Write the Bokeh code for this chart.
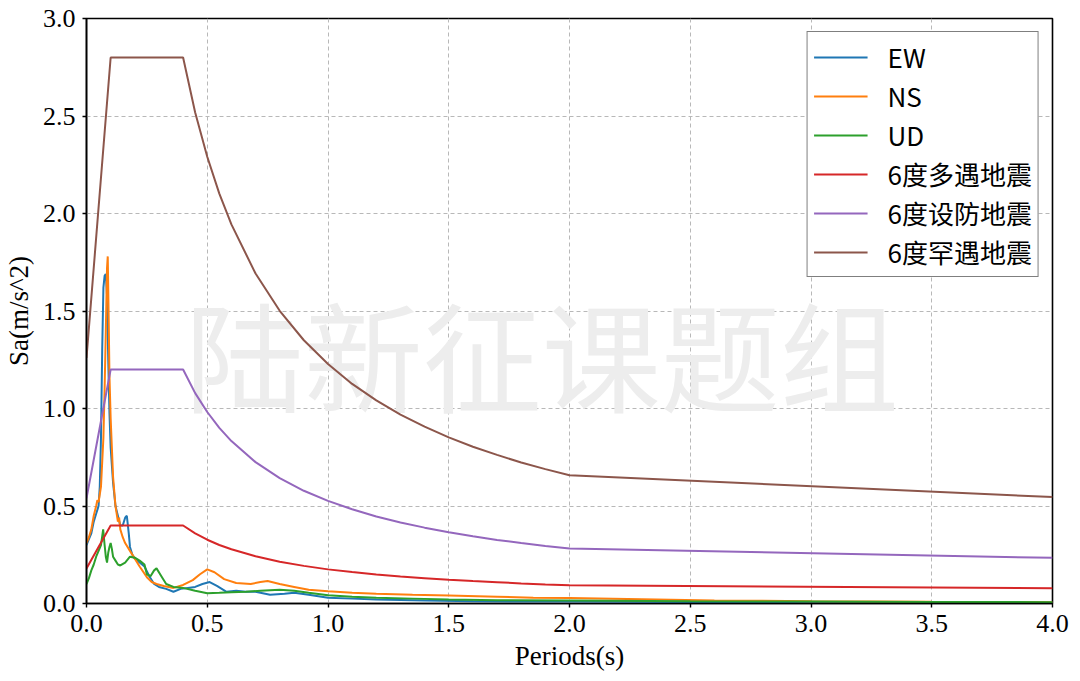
from bokeh.plotting import figure
from bokeh.models import Range1d, FixedTicker, Label, Legend, LegendItem
from bokeh.embed import file_html
from bokeh.resources import INLINE

# ---------------- data ----------------
x_ticks = [0.0, 0.5, 1.0, 1.5, 2.0, 2.5, 3.0, 3.5, 4.0]
x_tick_labels = ["0.0", "0.5", "1.0", "1.5", "2.0", "2.5", "3.0", "3.5", "4.0"]
y_ticks = [0.0, 0.5, 1.0, 1.5, 2.0, 2.5, 3.0]
y_tick_labels = ["0.0", "0.5", "1.0", "1.5", "2.0", "2.5", "3.0"]

series_names = ["EW", "NS", "UD", "6度多遇地震", "6度设防地震", "6度罕遇地震"]

ew_T = [0, 0.01, 0.02, 0.03, 0.04, 0.05, 0.055, 0.06, 0.065, 0.07, 0.075, 0.08,
        0.085, 0.09, 0.095, 0.10, 0.11, 0.12, 0.13, 0.14, 0.15, 0.16,
        0.167, 0.175, 0.18, 0.19, 0.20, 0.22, 0.24, 0.26, 0.28, 0.30,
        0.33, 0.36, 0.39, 0.42, 0.45, 0.48, 0.51, 0.54, 0.58, 0.62, 0.66, 0.70,
        0.76, 0.82, 0.86, 0.92, 1.0, 1.1, 1.2, 1.4, 1.6, 1.8, 2.0, 2.5, 3.0, 3.5, 4.0]
ew_sa = [0.30, 0.33, 0.36, 0.42, 0.46, 0.50, 0.60, 0.85, 1.30, 1.62, 1.68, 1.69,
         1.58, 1.25, 0.98, 0.80, 0.62, 0.50, 0.45, 0.40, 0.40, 0.44,
         0.45, 0.36, 0.29, 0.25, 0.23, 0.21, 0.19, 0.14, 0.10, 0.085,
         0.075, 0.06, 0.075, 0.08, 0.085, 0.10, 0.11, 0.09, 0.06, 0.065, 0.06, 0.06,
         0.045, 0.05, 0.055, 0.045, 0.03, 0.025, 0.02, 0.015, 0.012, 0.01, 0.01, 0.008, 0.007, 0.006, 0.005]

ns_T = [0, 0.01, 0.02, 0.03, 0.04, 0.045, 0.05, 0.06, 0.07, 0.075, 0.08, 0.085,
        0.088, 0.092, 0.095, 0.10, 0.105, 0.11, 0.12, 0.13, 0.135, 0.14, 0.15, 0.16,
        0.18, 0.20, 0.22, 0.25, 0.27, 0.29, 0.32, 0.36, 0.40, 0.44, 0.47, 0.50,
        0.53, 0.57, 0.62, 0.68, 0.72, 0.75, 0.80, 0.86, 0.92, 1.0, 1.1, 1.2,
        1.35, 1.5, 1.7, 1.85, 2.0, 2.3, 2.6, 3.0, 3.5, 4.0]
ns_sa = [0.31, 0.34, 0.38, 0.45, 0.50, 0.53, 0.52, 0.60, 0.85, 1.10, 1.40, 1.72,
         1.78, 1.45, 1.17, 0.95, 0.80, 0.65, 0.50, 0.42, 0.44, 0.38, 0.34, 0.31,
         0.27, 0.23, 0.19, 0.135, 0.11, 0.10, 0.09, 0.08, 0.095, 0.12, 0.15, 0.175,
         0.16, 0.125, 0.105, 0.10, 0.11, 0.115, 0.10, 0.085, 0.07, 0.063, 0.055, 0.05,
         0.045, 0.041, 0.035, 0.03, 0.028, 0.022, 0.016, 0.012, 0.009, 0.007]

ud_T = [0, 0.01, 0.02, 0.03, 0.04, 0.05, 0.06, 0.069, 0.075, 0.08, 0.085, 0.09,
        0.095, 0.10, 0.105, 0.11, 0.12, 0.13, 0.14, 0.16, 0.18, 0.20, 0.22, 0.24,
        0.25, 0.265, 0.28, 0.29, 0.31, 0.33, 0.36, 0.40, 0.45, 0.50, 0.55, 0.60,
        0.66, 0.72, 0.80, 0.86, 0.92, 1.0, 1.1, 1.2, 1.35, 1.5, 1.7, 2.0,
        2.5, 3.0, 3.5, 4.0]
ud_sa = [0.10, 0.13, 0.17, 0.20, 0.24, 0.27, 0.30, 0.38, 0.30, 0.24, 0.21, 0.26,
         0.29, 0.31, 0.28, 0.24, 0.22, 0.20, 0.195, 0.21, 0.24, 0.235, 0.22, 0.20,
         0.15, 0.14, 0.17, 0.18, 0.14, 0.10, 0.085, 0.08, 0.065, 0.053, 0.055, 0.058,
         0.06, 0.065, 0.07, 0.065, 0.055, 0.042, 0.035, 0.03, 0.025, 0.02, 0.017, 0.015,
         0.012, 0.01, 0.008, 0.007]

design_T = [0, 0.1, 0.4, 0.45, 0.5, 0.55, 0.6, 0.7, 0.8, 0.9, 1.0, 1.1, 1.2, 1.3,
            1.4, 1.5, 1.6, 1.7, 1.8, 1.9, 2.0, 4.0]
frequent_sa = [0.18, 0.40, 0.40, 0.360, 0.327, 0.300, 0.278, 0.242, 0.214, 0.193, 0.175,
               0.161, 0.149, 0.138, 0.130, 0.122, 0.115, 0.109, 0.103, 0.098, 0.094, 0.078]
fortify_sa = [0.54, 1.20, 1.20, 1.079, 0.982, 0.901, 0.833, 0.725, 0.643, 0.578, 0.526,
              0.483, 0.446, 0.415, 0.389, 0.365, 0.345, 0.326, 0.310, 0.295, 0.282, 0.234]
rare_sa = [1.26, 2.80, 2.80, 2.518, 2.291, 2.102, 1.944, 1.692, 1.501, 1.350, 1.228,
           1.126, 1.042, 0.969, 0.907, 0.852, 0.804, 0.762, 0.723, 0.689, 0.658, 0.546]

colors = ["#1f77b4", "#ff7f0e", "#2ca02c", "#d62728", "#9467bd", "#8c564b"]

# ---------------- figure ----------------
SERIF = "Liberation Serif"
p = figure(width=1080, height=681, output_backend="svg", toolbar_location=None,
           x_range=Range1d(0, 4), y_range=Range1d(0, 3),
           min_border_left=86, min_border_right=28, min_border_top=18, min_border_bottom=78)
p.background_fill_color = "white"
p.border_fill_color = "white"
p.outline_line_color = "black"
p.outline_line_width = 1.6

for ax, ticks, labels in ((p.xaxis, x_ticks, x_tick_labels), (p.yaxis, y_ticks, y_tick_labels)):
    ax.ticker = FixedTicker(ticks=ticks)
    ax.major_label_overrides = {t: l for t, l in zip(ticks, labels)}
    ax.major_label_text_font = SERIF
    ax.major_label_text_font_size = "26px"
    ax.major_label_text_color = "black"
    ax.axis_label_text_font = SERIF
    ax.axis_label_text_font_size = "27px"
    ax.axis_label_text_font_style = "normal"
    ax.axis_label_text_color = "black"
    ax.axis_line_color = "black"
    ax.axis_line_width = 1.6
    ax.major_tick_line_color = "black"
    ax.major_tick_line_width = 1.4
    ax.major_tick_out = 4
    ax.major_tick_in = 0
    ax.minor_tick_line_color = None

p.xaxis.axis_label = "Periods(s)"
p.yaxis.axis_label = "Sa(m/s^2)"
p.xaxis.major_label_standoff = 7
p.yaxis.major_label_standoff = 7
p.xaxis.axis_label_standoff = 6
p.yaxis.axis_label_standoff = 6

for g, ticks in ((p.xgrid, x_ticks), (p.ygrid, y_ticks)):
    g.ticker = FixedTicker(ticks=ticks)
    g.grid_line_color = "#b8b8b8"
    g.grid_line_dash = "4 3"
    g.grid_line_width = 1

# watermark
wm = Label(x=1.885, y=1.29, text="陆新征课题组", text_font="Noto Sans CJK SC",
           text_font_size="119px", text_color="#ededed", text_align="center",
           text_baseline="middle", level="underlay")
p.add_layout(wm)

# lines
data = [(ew_T, ew_sa), (ns_T, ns_sa), (ud_T, ud_sa),
        (design_T, frequent_sa), (design_T, fortify_sa), (design_T, rare_sa)]
items = []
for (xs, ys), c, name in zip(data, colors, series_names):
    r = p.line(xs, ys, line_color=c, line_width=2)
    items.append(LegendItem(label=name, renderers=[r]))

legend = Legend(items=items, location="top_right")
legend.label_text_font = "Noto Sans CJK SC"
legend.label_text_font_size = "26px"
legend.label_text_color = "black"
legend.glyph_width = 54
legend.glyph_height = 28
legend.label_height = 28
legend.label_standoff = 20
legend.spacing = 2
legend.padding = 6
legend.margin = 13
legend.border_line_color = "black"
legend.border_line_width = 1.6
legend.background_fill_color = "white"
legend.background_fill_alpha = 1.0
p.add_layout(legend)

open("out.html", "w").write(file_html(p, INLINE))
